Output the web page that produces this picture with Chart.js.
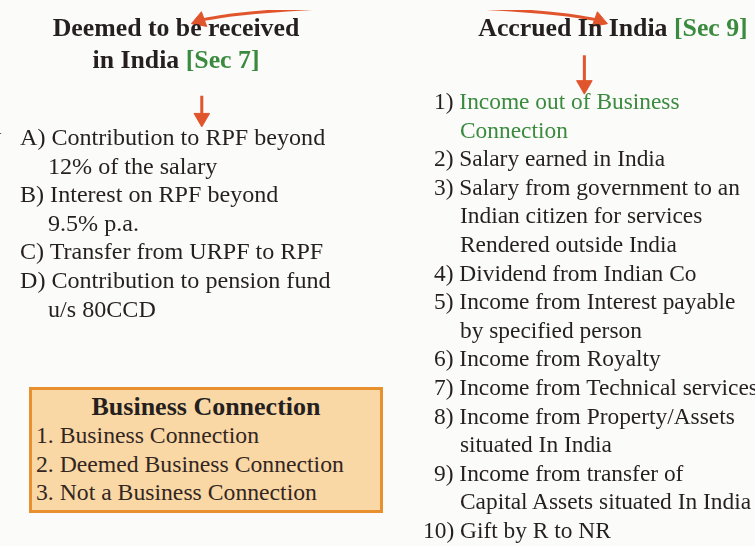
<!DOCTYPE html>
<html>
<head>
<meta charset="utf-8">
<script src="https://cdn.jsdelivr.net/npm/chart.js@4"></script>
<style>
  body { margin: 0; background: #fbfbfa; }
  #page { position: relative; width: 755px; height: 546px; overflow: hidden;
          font-family: "Liberation Serif", serif; color: #251f20; }
  #arrows { position: absolute; left: 0; top: 0; }
  .txt { position: absolute; white-space: nowrap; font-size: 23.7px; line-height: 28.6px; }
  .head { position: absolute; white-space: nowrap; font-weight: bold; font-size: 25.8px;
          line-height: 32px; text-align: center; }
  .green { color: #3a8b3e; }
  .item { padding-left: 28px; text-indent: -28px; }
  .ritem { padding-left: 26px; text-indent: -26px; }
  #box { position: absolute; left: 29px; top: 387px; width: 348px; height: 120px;
         border: 3px solid #e8902e; background: #f9d8a6; }
</style>
</head>
<body>
<div id="page">
  <canvas id="arrows" width="755" height="546"></canvas>
</div>
<script>
// text of the page
const leftTitle = ["Deemed to be received", "in India"];
const leftSec = "[Sec 7]";
const rightTitle = "Accrued In India";
const rightSec = "[Sec 9]";
const leftItems = [
    ["A)", "Contribution to RPF beyond", "12% of the salary"],
    ["B)", "Interest on RPF beyond", "9.5% p.a."],
    ["C)", "Transfer from URPF to RPF"],
    ["D)", "Contribution to pension fund", "u/s 80CCD"]
];
const rightItems = [
    ["1)", "Income out of Business", "Connection"],
    ["2)", "Salary earned in India"],
    ["3)", "Salary from government to an", "Indian citizen for services", "Rendered outside India"],
    ["4)", "Dividend from Indian Co"],
    ["5)", "Income from Interest payable", "by specified person"],
    ["6)", "Income from Royalty"],
    ["7)", "Income from Technical services"],
    ["8)", "Income from Property/Assets", "situated In India"],
    ["9)", "Income from transfer of", "Capital Assets situated In India"],
    ["10)", "Gift by R to NR"]
];
const boxTitle = "Business Connection";
const boxItems = ["1. Business Connection", "2. Deemed Business Connection", "3. Not a Business Connection"];

// arrow paths (page pixels)
const arrowLeftCurve = [{x: 360, y: -4}, {x: 285, y: 0}, {x: 230, y: 5}, {x: 198, y: 10}];
const arrowRightCurve = [{x: 440, y: -4}, {x: 515, y: 0}, {x: 570, y: 5}, {x: 602, y: 10}];
const arrowLeftDown = [{x: 197, y: 89}, {x: 197, y: 110}];
const arrowRightDown = [{x: 590, y: 47}, {x: 590, y: 76}];
const arrowHeads = [
    {x: 197, y: 112, r: 180},
    {x: 590, y: 78, r: 180},
    {x: 195, y: 11, r: 250},
    {x: 605, y: 11, r: 110}
];

const page = document.getElementById("page");

function addDiv(cls, html, left, top, width) {
    const d = document.createElement("div");
    d.className = cls;
    d.innerHTML = html;
    d.style.left = left + "px";
    d.style.top = top + "px";
    if (width) d.style.width = width + "px";
    page.appendChild(d);
    return d;
}

// headings
addDiv("head", leftTitle[0] + "<br>" + leftTitle[1] + ' <span class="green">' + leftSec + "</span>", 26, 12, 300);
addDiv("head", rightTitle + ' <span class="green">' + rightSec + "</span>", 463, 12, 300);

// left list
let html = "";
leftItems.forEach(it => {
    html += '<div class="item">' + it[0] + " " + it.slice(1).join("<br>") + "</div>";
});
addDiv("txt", html, 20, 123).style.fontSize = "24.1px";

// right list
html = "";
rightItems.forEach((it, i) => {
    const cls = i == 0 ? ' class="green"' : "";
    const shift = it[0].length > 2 ? ' style="margin-left:-11px"' : "";
    html += '<div class="ritem"' + shift + ">" + it[0] + " <span" + cls + ">" + it.slice(1).join("<br>") + "</span></div>";
});
addDiv("txt", html, 434, 87).style.fontSize = "23.4px";

// box
const box = document.createElement("div");
box.id = "box";
page.appendChild(box);
addDiv("head", boxTitle, 29, 391, 354).style.fontSize = "26px";
addDiv("txt", boxItems.join("<br>"), 36, 421).style.color = "#33261f";

// tiny fragment at the left edge
addDiv("txt", "a", -9, 112);

const red = "#e1552c";
const lineSet = pts => ({
    data: pts, showLine: true, borderColor: red, borderWidth: 3,
    pointRadius: 0, tension: 0.4, fill: false
});

new Chart(document.getElementById("arrows"), {
    type: "scatter",
    data: {
        datasets: [
            lineSet(arrowLeftCurve),
            lineSet(arrowRightCurve),
            lineSet(arrowLeftDown),
            lineSet(arrowRightDown),
            {
                data: arrowHeads.map(h => ({x: h.x, y: h.y})),
                pointStyle: "triangle",
                pointRotation: arrowHeads.map(h => h.r),
                pointRadius: 9,
                backgroundColor: red,
                borderColor: red,
                borderWidth: 1
            }
        ]
    },
    options: {
        responsive: false,
        animation: false,
        layout: { padding: 0 },
        plugins: { legend: { display: false }, tooltip: { enabled: false } },
        scales: {
            x: { type: "linear", min: 0, max: 755, display: false },
            y: { type: "linear", min: 0, max: 546, reverse: true, display: false }
        }
    }
});
</script>
</body>
</html>
